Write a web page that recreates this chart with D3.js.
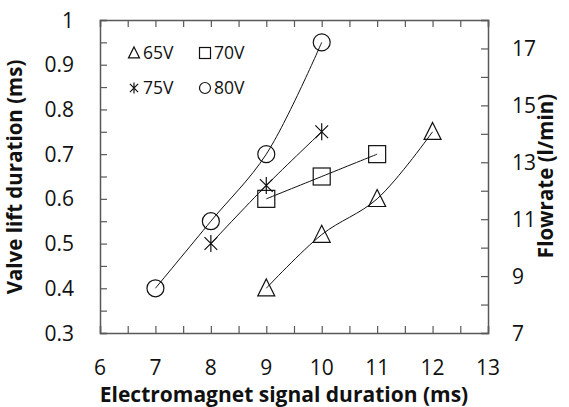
<!DOCTYPE html>
<html>
<head>
<meta charset="utf-8">
<script src="https://cdn.jsdelivr.net/npm/d3@7"></script>
<style>
  body { margin: 0; background: #fff; }
  svg { display: block; }
  text { font-family: "Open Sans", "Liberation Sans", sans-serif; fill: #111; }
</style>
</head>
<body>
<svg id="chart" width="569" height="407"></svg>
<script>
// Signal duration (ms) for each supply voltage
const x65 = [9, 10, 11, 12];
const y65 = [0.4, 0.52, 0.6, 0.75];
const x70 = [9, 10, 11];
const y70 = [0.6, 0.65, 0.7];
const x75 = [8, 9, 10];
const y75 = [0.5, 0.63, 0.75];
const x80 = [7, 8, 9, 10];
const y80 = [0.4, 0.55, 0.7, 0.95];

const xTicks = [6, 7, 8, 9, 10, 11, 12, 13];
const yTicks = [0.3, 0.4, 0.5, 0.6, 0.7, 0.8, 0.9, 1];
const yTickLabels = ["0.3", "0.4", "0.5", "0.6", "0.7", "0.8", "0.9", "1"];
const flowTicks = [7, 9, 11, 13, 15, 17];

const seriesNames = ["65V", "70V", "75V", "80V"];
const seriesSymbols = ["triangle", "square", "asterisk", "circle"];

const svg = d3.select("#chart");
const plotL = 100, plotR = 488, plotT = 20, plotB = 333;
const axisColor = "#595959";
const tickFont = 21;

const x = d3.scaleLinear().domain([6, 13]).range([plotL, plotR]);
const y = d3.scaleLinear().domain([0.3, 1]).range([plotB, plotT]);
const yFlow = d3.scaleLinear().domain([7, 18]).range([plotB, plotT]);

// Axes with inward ticks
const gx = svg.append("g").attr("transform", `translate(0,${plotB})`)
  .call(d3.axisBottom(x).tickValues(d3.range(6, 13.01, 0.5)).tickSize(-7).tickFormat(""));
const gxTop = svg.append("g").attr("transform", `translate(0,${plotT})`)
  .call(d3.axisTop(x).tickValues(d3.range(6, 13.01, 0.5)).tickSize(-7).tickFormat(""));
const gy = svg.append("g").attr("transform", `translate(${plotL},0)`)
  .call(d3.axisLeft(y).tickValues(d3.range(0.3, 1.001, 0.05)).tickSize(-7).tickFormat(""));
const gyR = svg.append("g").attr("transform", `translate(${plotR},0)`)
  .call(d3.axisRight(yFlow).tickValues(d3.range(7, 18.01, 1)).tickSize(-7).tickFormat(""));

[gx, gxTop, gy, gyR].forEach(g => {
  g.select(".domain").attr("stroke", axisColor).attr("stroke-width", 1.5);
  g.selectAll(".tick line").attr("stroke", axisColor).attr("stroke-width", 1.2);
});

// Tick labels
svg.append("g").selectAll("text").data(xTicks).join("text")
  .attr("x", d => x(d)).attr("y", 375)
  .attr("text-anchor", "middle").attr("font-size", tickFont)
  .text(d => d);

svg.append("g").selectAll("text").data(yTicks).join("text")
  .attr("x", 74).attr("y", d => y(d) + 7.5)
  .attr("text-anchor", "end").attr("font-size", tickFont)
  .text((d, i) => yTickLabels[i]);

svg.append("g").selectAll("text").data(flowTicks).join("text")
  .attr("x", 512).attr("y", d => yFlow(d) + 7.5)
  .attr("text-anchor", "start").attr("font-size", tickFont)
  .text(d => d);

// Axis titles
svg.append("text").attr("x", 284).attr("y", 402)
  .attr("text-anchor", "middle").attr("font-size", 21).attr("font-weight", "bold")
  .text("Electromagnet signal duration (ms)");
svg.append("text").attr("transform", "translate(22,177) rotate(-90)")
  .attr("text-anchor", "middle").attr("font-size", 20.5).attr("font-weight", "bold")
  .text("Valve lift duration (ms)");
svg.append("text").attr("transform", "translate(553,176) rotate(-90)")
  .attr("text-anchor", "middle").attr("font-size", 20.5).attr("font-weight", "bold")
  .text("Flowrate (l/min)");

// Marker shapes
function drawMarker(g, sym, cx, cy, s) {
  const h = s / 2;
  if (sym === "circle") {
    g.append("circle").attr("cx", cx).attr("cy", cy).attr("r", h);
  } else if (sym === "square") {
    g.append("rect").attr("x", cx - h).attr("y", cy - h).attr("width", s).attr("height", s);
  } else if (sym === "triangle") {
    g.append("path").attr("d", `M${cx},${cy - h * 1.1}L${cx + h},${cy + h * 0.9}L${cx - h},${cy + h * 0.9}Z`);
  } else if (sym === "asterisk") {
    const a = h * 0.75;
    g.append("path").attr("d",
      `M${cx},${cy - h}L${cx},${cy + h}` +
      `M${cx - a},${cy - a}L${cx + a},${cy + a}` +
      `M${cx - a},${cy + a}L${cx + a},${cy - a}`);
  }
}

const series = [
  { xs: x65, ys: y65 },
  { xs: x70, ys: y70 },
  { xs: x75, ys: y75 },
  { xs: x80, ys: y80 }
];

const line = d3.line().x(d => x(d[0])).y(d => y(d[1])).curve(d3.curveCatmullRom.alpha(0.5));

const plot = svg.append("g");
series.forEach((s, i) => {
  const pts = s.xs.map((v, j) => [v, s.ys[j]]);
  plot.append("path").datum(pts).attr("d", line)
    .attr("fill", "none").attr("stroke", "#111").attr("stroke-width", 1);
  const mg = plot.append("g").attr("fill", "none").attr("stroke", "#111").attr("stroke-width", 1.2);
  pts.forEach(p => drawMarker(mg, seriesSymbols[i], x(p[0]), y(p[1]), 17));
});

// Legend
const legendPos = [[134, 53], [205, 53], [134, 88], [205, 88]];
seriesNames.forEach((name, i) => {
  const [lx, ly] = legendPos[i];
  const g = svg.append("g").attr("fill", "none").attr("stroke", "#111").attr("stroke-width", 1.2);
  drawMarker(g, seriesSymbols[i], lx, ly, 11);
  svg.append("text").attr("x", lx + 9).attr("y", ly + 6)
    .attr("font-size", 17.5).text(name);
});
</script>
</body>
</html>
